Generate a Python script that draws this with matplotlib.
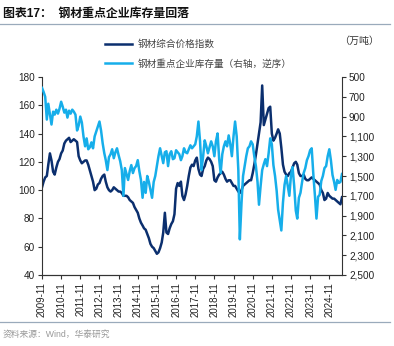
import matplotlib
matplotlib.use("Agg")
import matplotlib.pyplot as plt
import matplotlib.dates as mdates
from matplotlib.ticker import FuncFormatter
import pandas as pd

plt.rcParams['font.family'] = ['Liberation Sans', 'Noto Sans CJK SC', 'DejaVu Sans']

# Monthly steel composite price index, 2009-11 .. 2025-07
price = [
    102, 106,
    109, 110, 118, 126, 121, 113, 111, 116, 120, 122, 126, 128,   # 2010
    133, 135, 136, 137, 134, 135, 136, 135, 134, 124, 121, 119,   # 2011
    120, 121, 121, 118, 114, 110, 106, 100, 101, 104, 105, 108,   # 2012
    110, 111, 106, 102, 100, 99, 100, 102, 101, 100, 99, 99,      # 2013
    98, 96, 96, 96, 95, 93, 92, 91, 88, 86, 84, 80,               # 2014
    77, 75, 73, 72, 69, 66, 62, 60, 59, 57, 55, 56,               # 2015
    59, 63, 70, 84, 70, 69, 73, 76, 78, 83, 101, 105,             # 2016
    103, 106, 96, 93, 97, 103, 110, 116, 118, 117, 121, 123,      # 2017
    115, 111, 110, 115, 117, 121, 123, 122, 120, 117, 107, 106,   # 2018
    109, 111, 112, 113, 111, 108, 106, 107, 107, 105, 103, 103,   # 2019
    101, 99, 98, 100, 103, 104, 105, 106, 107, 107, 112, 118,     # 2020
    125, 133, 140, 148, 174, 146, 150, 154, 158, 159, 140, 135,   # 2021
    137, 140, 143, 140, 130, 118, 113, 111, 110, 112, 113, 116,   # 2022
    119, 120, 118, 112, 110, 110, 111, 108, 107, 107, 108, 109,   # 2023
    108, 107, 106, 105, 104, 100, 98, 93, 94, 98, 96, 95,         # 2024
    94, 94, 93, 92, 91, 90, 95,                                   # 2025
]

# Monthly inventory of key steel enterprises (10k tonnes), 2009-11 .. 2025-07
inventory = [
    610, 650,
    700, 930, 770, 880, 980, 850, 880, 830, 870, 820, 750, 800,             # 2010
    860, 830, 910, 840, 870, 830, 850, 880, 1040, 990, 900, 960,            # 2011
    1100, 1200, 1120, 1230, 1210, 1160, 1220, 1100, 1050, 1000, 950, 1040,  # 2012
    1170, 1270, 1340, 1440, 1310, 1280, 1230, 1320, 1260, 1220, 1290, 1350, # 2013
    1440, 1700, 1420, 1480, 1540, 1450, 1390, 1470, 1420, 1400, 1340, 1450, # 2014
    1540, 1720, 1560, 1670, 1500, 1560, 1640, 1720, 1560, 1500, 1400, 1300, # 2015
    1220, 1300, 1370, 1260, 1250, 1400, 1280, 1250, 1330, 1320, 1240, 1260, # 2016
    1280, 1340, 1300, 1220, 1260, 1270, 1230, 1190, 1220, 1200, 1180, 1100, # 2017
    950, 1150, 1440, 1300, 1140, 1200, 1270, 1210, 1150, 1200, 1300, 1150,  # 2018
    1070, 1330, 1470, 1280, 1200, 1150, 1200, 1090, 1180, 1300, 1100, 950,  # 2019
    1100, 1440, 2140, 1780, 1500, 1400, 1300, 1220, 1200, 1150, 1180, 1300, # 2020
    1400, 1560, 1790, 1600, 1440, 1380, 1330, 1400, 1270, 1120, 1180, 1390, # 2021
    1500, 1650, 1840, 1950, 2050, 1770, 1590, 1500, 1600, 1700, 1490, 1410, # 2022
    1600, 1850, 1930, 1720, 1670, 1560, 1470, 1420, 1340, 1300, 1240, 1220, # 2023
    1480, 1700, 1930, 1710, 1690, 1550, 1500, 1420, 1400, 1300, 1230, 1340, # 2024
    1490, 1560, 1640, 1540, 1570, 1560, 1480,                               # 2025
]

dates = pd.date_range("2009-11-01", periods=len(price), freq="MS")
tick_dates = pd.date_range("2009-11-01", "2024-11-01", freq="12MS")

title = "图表17：  钢材重点企业库存量回落"
label_price = "钢材综合价格指数"
label_inv = "钢材重点企业库存量（右轴，逆序）"
unit = "（万吨）"
source = "资料来源：Wind，华泰研究"

c_dark = "#0b2f6e"
c_light = "#16aeea"
c_rule = "#9aaabb"

W, H = 394, 346
fig = plt.figure(figsize=(W / 100, H / 100), dpi=100)
ax = fig.add_axes([42 / W, 1 - 275 / H, 300 / W, 198 / H])
ax2 = ax.twinx()

l1, = ax.plot(dates, price, color=c_dark, lw=1.8, solid_joinstyle="round")
l2, = ax2.plot(dates, inventory, color=c_light, lw=1.8, solid_joinstyle="round")

ax.set_xlim(dates[0], dates[-1])
ax.set_ylim(40, 180)
ax.set_yticks(range(40, 181, 20))
ax2.set_ylim(2500, 500)
ax2.set_yticks(range(500, 2501, 200))
ax2.yaxis.set_major_formatter(FuncFormatter(lambda v, p: f"{int(v):,}"))

ax.set_xticks(tick_dates)
ax.xaxis.set_major_formatter(mdates.DateFormatter("%Y-%m"))

for a in (ax, ax2):
    for s in a.spines.values():
        s.set_color("#333333")
        s.set_linewidth(0.8)
    a.spines["top"].set_visible(False)
    a.tick_params(length=3, width=0.8, color="#333333", labelsize=7.2,
                  labelcolor="#222222", pad=2)
ax2.spines["left"].set_visible(False)
ax.spines["right"].set_visible(False)
ax.tick_params(axis="x", labelrotation=90, labelsize=7, pad=2)

fig.legend([l1, l2], [label_price, label_inv], loc="upper left",
           bbox_to_anchor=(96 / W, 1 - 31 / H), frameon=False,
           handlelength=2.9, handletextpad=0.5, labelspacing=1.0,
           prop={"family": "Noto Sans CJK SC", "size": 6.9},
           labelcolor="#444444")

fig.text(339 / W, 1 - 41 / H, unit, fontsize=7.2, color="#333333",
         family="Noto Sans CJK SC", va="center", ha="left")

fig.text(3 / W, 1 - 14 / H, title, fontsize=8.6, fontweight="bold",
         color="#111111", family=["Liberation Sans", "Noto Sans CJK SC"],
         va="center", ha="left")
fig.add_artist(plt.Line2D([0, 390 / W], [1 - 24 / H, 1 - 24 / H],
                          transform=fig.transFigure, color=c_rule, lw=0.9))
fig.add_artist(plt.Line2D([0, 390 / W], [1 - 322 / H, 1 - 322 / H],
                          transform=fig.transFigure, color=c_rule, lw=0.9))
fig.text(3 / W, 1 - 334 / H, source, fontsize=6.3, color="#999999",
         family=["Liberation Sans", "Noto Sans CJK SC"], va="center", ha="left")

fig.savefig("out.png", dpi=100)
